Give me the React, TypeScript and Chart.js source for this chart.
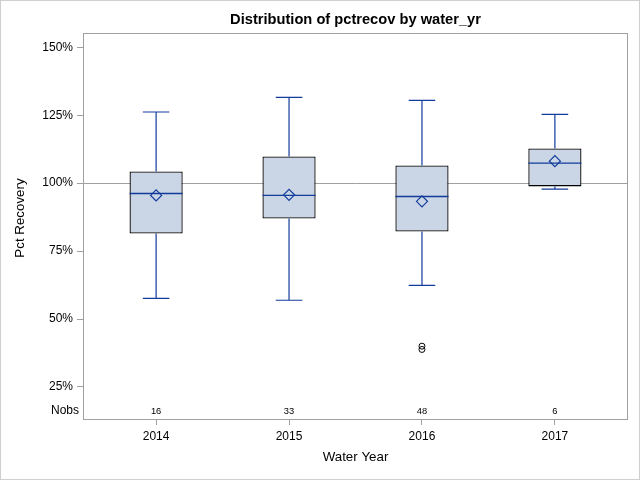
import React, { useEffect, useRef } from "react";
import { Chart, registerables } from "chart.js";

Chart.register(...registerables);

// ---- text ----
const titleText = "Distribution of pctrecov by water_yr";
const yAxisLabel = "Pct Recovery";
const xAxisLabel = "Water Year";
const nobsLabel = "Nobs";

// ---- data ----
const categories = ["2014", "2015", "2016", "2017"];
const nobs = [16, 33, 48, 6];
const whiskerLow = [57.6, 56.9, 62.4, 97.8];
const q1 = [81.5, 87.0, 82.2, 98.8];
const medians = [96.2, 95.5, 95.1, 107.4];
const q3 = [104.3, 109.8, 106.5, 112.8];
const whiskerHigh = [126.2, 131.6, 130.5, 125.3];
const means = [95.5, 95.7, 93.3, 108.1];
const outlierCategory = [2, 2];
const outlierValues = [40.0, 38.8];
const yTicks = [25, 50, 75, 100, 125, 150];
const referenceValue = 100;
const yMin = 13.2;
const yMax = 154.9;
const xMin = -0.55;
const xMax = 3.55;

// ---- style ----
const FONT = '"Liberation Sans", Arial, Helvetica, sans-serif';
const TEXT = "#000000";
const AXIS = "#a0a0a0";
const OUTER = "#cfcfcf";
const BOX_FILL = "#cad5e5";
const BOX_EDGE = "#000000";
const BLUE = "#123c9c";
const BOX_HALF = 0.2;
const CAP_HALF = 0.1;

export default function App() {
  const ref = useRef<HTMLCanvasElement | null>(null);

  useEffect(() => {
    document.body.style.margin = "0";
    const canvas = ref.current;
    if (!canvas) return;

    const idx = categories.map((_, i) => i);
    const gap = (i: number) => ({ x: i, y: null as any });
    const boxData = idx.map((i) => ({ x: i, y: [q1[i], q3[i]] }));
    const whiskerData = idx.flatMap((i) => [
      { x: i, y: q3[i] }, { x: i, y: whiskerHigh[i] }, gap(i),
      { x: i, y: q1[i] }, { x: i, y: whiskerLow[i] }, gap(i),
      { x: i - CAP_HALF, y: whiskerHigh[i] }, { x: i + CAP_HALF, y: whiskerHigh[i] }, gap(i),
      { x: i - CAP_HALF, y: whiskerLow[i] }, { x: i + CAP_HALF, y: whiskerLow[i] }, gap(i),
    ]);
    const medianData = idx.flatMap((i) => [
      { x: i - BOX_HALF, y: medians[i] }, { x: i + BOX_HALF, y: medians[i] }, gap(i),
    ]);
    const meanData = idx.map((i) => ({ x: i, y: means[i] }));
    const outlierData = outlierValues.map((v, k) => ({ x: outlierCategory[k], y: v }));

    const decor = {
      id: "decor",
      beforeDatasetsDraw(chart: any) {
        const { ctx, chartArea: a, scales } = chart;
        const py = Math.round(scales.y.getPixelForValue(referenceValue)) + 0.5;
        ctx.save();
        ctx.strokeStyle = AXIS;
        ctx.lineWidth = 1;
        ctx.beginPath();
        ctx.moveTo(a.left, py);
        ctx.lineTo(a.right, py);
        ctx.stroke();
        ctx.restore();
      },
      afterDraw(chart: any) {
        const { ctx, chartArea: a, scales } = chart;
        ctx.save();
        // outer border
        ctx.strokeStyle = OUTER;
        ctx.lineWidth = 1;
        ctx.strokeRect(0.5, 0.5, chart.width - 1, chart.height - 1);
        // plot frame
        ctx.strokeStyle = AXIS;
        ctx.strokeRect(a.left + 0.5, a.top - 0.5, a.right - a.left - 1, a.bottom - a.top + 1);
        // title
        ctx.fillStyle = TEXT;
        ctx.textAlign = "center";
        ctx.textBaseline = "middle";
        ctx.font = `bold 14.67px ${FONT}`;
        ctx.fillText(titleText, (a.left + a.right) / 2, 19.5);
        // y axis title
        ctx.save();
        ctx.translate(20, (a.top + a.bottom - 17) / 2);
        ctx.rotate(-Math.PI / 2);
        ctx.font = `13.33px ${FONT}`;
        ctx.fillText(yAxisLabel, 0, 0);
        ctx.restore();
        // Nobs row
        const ny = a.bottom - 8;
        ctx.textAlign = "right";
        ctx.font = `12px ${FONT}`;
        ctx.fillText(nobsLabel, a.left - 4, ny);
        ctx.textAlign = "center";
        ctx.font = `9.33px ${FONT}`;
        nobs.forEach((n, i) => {
          ctx.fillText(String(n), scales.x.getPixelForValue(i), ny);
        });
        ctx.restore();
      },
    };

    const chart = new Chart(canvas, {
      type: "bar",
      data: {
        datasets: [
          {
            type: "line",
            label: "outliers",
            data: outlierData as any,
            showLine: false,
            pointStyle: "circle",
            pointRadius: 3,
            pointBorderColor: "#000000",
            pointBackgroundColor: "rgba(0,0,0,0)",
            pointBorderWidth: 1,
            order: 0,
          } as any,
          {
            type: "line",
            label: "means",
            data: meanData as any,
            showLine: false,
            pointStyle: "rectRot",
            pointRadius: 5.5,
            pointBorderColor: BLUE,
            pointBackgroundColor: "rgba(0,0,0,0)",
            pointBorderWidth: 1.2,
            order: 1,
          } as any,
          {
            type: "line",
            label: "medians",
            data: medianData as any,
            borderColor: BLUE,
            borderWidth: 1.3,
            pointRadius: 0,
            spanGaps: false,
            fill: false,
            order: 2,
          } as any,
          {
            type: "line",
            label: "whiskers",
            data: whiskerData as any,
            borderColor: BLUE,
            borderWidth: 1.2,
            pointRadius: 0,
            spanGaps: false,
            fill: false,
            order: 3,
          } as any,
          {
            type: "bar",
            label: "box",
            data: boxData as any,
            backgroundColor: BOX_FILL,
            borderColor: BOX_EDGE,
            borderWidth: 1.3,
            borderSkipped: false,
            categoryPercentage: 0.8,
            barPercentage: 0.5,
            order: 4,
          } as any,
        ],
      },
      options: {
        responsive: false,
        devicePixelRatio: 1,
        animation: false,
        events: [],
        layout: { padding: { top: 34, left: 0, right: 12, bottom: 0 } },
        plugins: {
          legend: { display: false },
          tooltip: { enabled: false },
          title: { display: false },
        },
        scales: {
          x: {
            type: "linear",
            min: xMin,
            max: xMax,
            offset: false,
            afterBuildTicks: (s: any) => {
              s.ticks = categories.map((_, i) => ({ value: i }));
            },
            afterFit: (s: any) => {
              s.height = 61;
            },
            ticks: {
              autoSkip: false,
              maxRotation: 0,
              padding: 4,
              color: TEXT,
              font: { family: FONT, size: 12 },
              callback: (v: any) => categories[Math.round(Number(v))] ?? "",
            },
            grid: { drawOnChartArea: false, drawTicks: true, tickLength: 6, color: AXIS, offset: false },
            border: { display: false },
            title: {
              display: true,
              text: xAxisLabel,
              color: TEXT,
              font: { family: FONT, size: 13.33 },
              padding: { top: 0, bottom: 15 },
            },
          },
          y: {
            type: "linear",
            min: yMin,
            max: yMax,
            afterBuildTicks: (s: any) => {
              s.ticks = yTicks.map((v) => ({ value: v }));
            },
            afterFit: (s: any) => {
              s.width = 83;
            },
            ticks: {
              padding: 4,
              color: TEXT,
              font: { family: FONT, size: 12 },
              callback: (v: any) => `${v}%`,
            },
            grid: { drawOnChartArea: false, drawTicks: true, tickLength: 6, color: AXIS },
            border: { display: false },
          },
        },
      } as any,
      plugins: [decor],
    });

    return () => chart.destroy();
  }, []);

  return (
    <div style={{ width: 640, height: 480 }}>
      <canvas ref={ref} width={640} height={480} />
    </div>
  );
}
